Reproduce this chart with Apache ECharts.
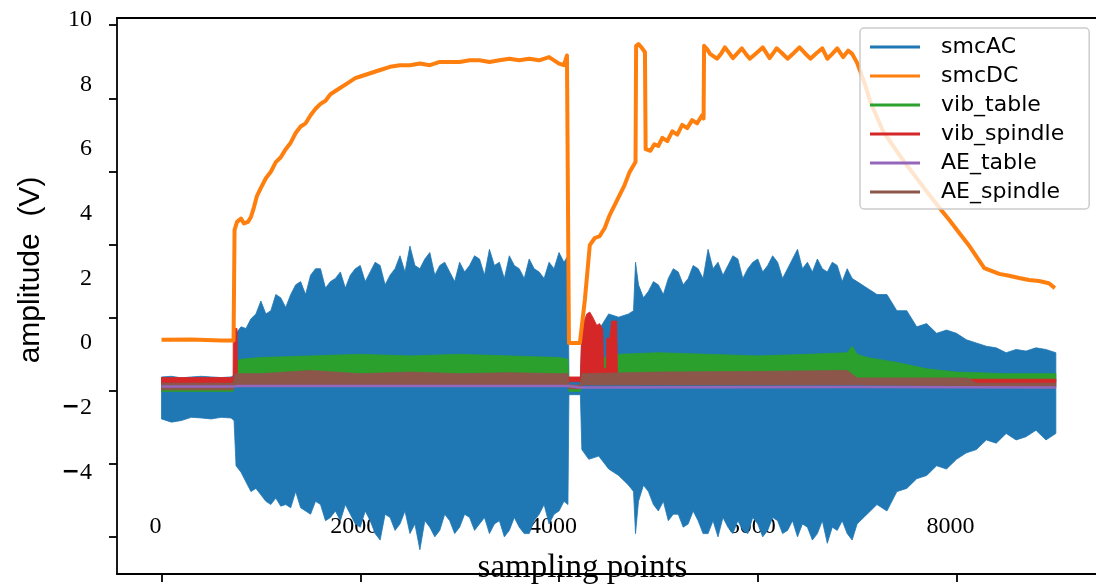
<!DOCTYPE html>
<html><head><meta charset="utf-8">
<script src="https://cdn.jsdelivr.net/npm/echarts@6/dist/echarts.min.js"></script>
<style>html,body{margin:0;padding:0;background:#fff}#c{width:1096px;height:585px}</style>
</head><body><div id="c"></div>
<script>
// ---- tick labels / tick marks ----
const xTickValues = [0, 2000, 4000, 6000, 8000];
const yLabelValues = [10, 8, 6, 4, 2, 0, -2, -4];
const yTickMarks = [9.85, 7.56, 5.29, 3.03, 0.77, -1.49, -3.75, -6.01];
const seriesNames = ['smcAC', 'smcDC', 'vib_table', 'vib_spindle', 'AE_table', 'AE_spindle'];

// ---- smcAC (dense oscillation: envelope) ----
const blueX = [0,100,200,300,400,500,600,700,730,
  750,800,850,900,950,1000,1050,1100,1150,1200,1250,1300,1350,1400,1450,1500,1550,1600,1650,1700,1750,1800,1850,1900,1950,2000,2050,2100,2150,2200,2250,2300,2350,2400,2450,2500,2550,2600,2650,2700,2750,2800,2850,2900,2950,3000,3050,3100,3150,3200,3250,3300,3350,3400,3450,3500,3550,3600,3650,3700,3750,3800,3850,3900,3950,4000,4050,4090,
  4100,4215,
  4230,4300,4400,4500,4600,4700,4750,4770,4800,4850,4900,4950,5000,5050,5100,5150,5200,5250,5300,5350,5400,5450,5500,5550,5600,5650,5700,5750,5800,5850,5900,5950,6000,6050,6100,6150,6200,6250,6300,6350,6400,6450,6500,6550,6600,6650,6700,6750,6800,6850,6900,6950,7000,7100,7200,7300,7400,7500,7600,7700,7800,7900,8000,8100,8200,8300,8400,8500,8600,8700,8800,8900,9000];
const blueHi = [-1.05,-1.03,-1.08,-1.05,-1.03,-1.05,-1.07,-1.05,-1.0,
  0.3,0.5,0.45,0.75,0.9,1.3,0.9,1.0,1.5,1.4,1.1,1.5,1.8,1.9,1.5,2.1,2.3,2.3,1.7,1.9,2.0,2.2,1.7,2.1,2.3,2.4,1.9,2.2,2.5,2.4,1.8,2.1,2.3,2.7,2.2,3.0,2.4,2.3,2.6,2.8,2.1,2.4,2.5,2.2,1.9,2.5,2.2,2.4,2.7,2.6,2.1,2.9,2.4,2.5,2.0,2.7,2.4,2.3,2.0,2.6,2.3,2.2,2.0,2.5,2.3,2.8,2.5,2.7,
  -1.1,-1.1,
  0.2,0.3,0.4,0.9,0.8,0.9,1.0,2.5,1.8,1.4,1.6,1.9,1.8,1.5,2.0,2.3,2.2,1.8,2.0,2.4,2.3,2.0,2.9,2.3,2.5,2.1,2.4,2.7,2.6,2.0,2.3,2.5,2.6,2.2,2.4,2.7,2.5,2.0,2.3,2.6,2.9,2.3,2.5,2.2,2.6,2.3,2.2,2.5,2.4,1.9,2.3,2.0,1.9,1.7,1.5,1.5,1.0,1.0,0.5,0.6,0.3,0.4,0.3,0.1,0.0,-0.1,-0.15,-0.3,-0.2,-0.25,-0.15,-0.2,-0.3];
const blueLo = [-2.35,-2.45,-2.4,-2.3,-2.32,-2.35,-2.3,-2.32,-2.4,
  -3.8,-4.0,-4.3,-4.6,-4.5,-4.7,-4.9,-5.0,-4.8,-5.05,-5.0,-5.1,-4.6,-5.1,-5.2,-5.3,-4.9,-5.0,-5.5,-5.4,-5.2,-5.5,-5.0,-5.3,-5.6,-5.7,-5.2,-5.5,-5.9,-6.1,-5.3,-5.4,-5.8,-5.6,-5.2,-5.9,-5.6,-6.4,-5.5,-5.7,-6.0,-5.8,-5.3,-5.5,-5.9,-5.7,-5.3,-5.4,-5.8,-5.6,-5.4,-5.9,-5.6,-5.5,-6.0,-5.8,-5.4,-5.7,-5.9,-5.9,-5.5,-5.3,-5.0,-5.6,-5.3,-5.2,-4.9,-5.0,
  -1.6,-1.6,
  -3.3,-3.6,-3.5,-3.9,-4.1,-4.4,-4.6,-5.9,-4.9,-4.4,-4.6,-5.0,-5.2,-4.9,-5.5,-5.3,-5.3,-5.7,-5.6,-5.2,-5.5,-5.9,-5.9,-5.5,-6.0,-5.4,-5.7,-5.9,-5.5,-5.8,-5.9,-5.4,-5.6,-6.0,-5.8,-5.4,-5.5,-5.9,-5.8,-5.5,-6.0,-5.6,-5.7,-6.1,-5.9,-5.5,-6.2,-5.7,-5.8,-5.5,-5.9,-6.1,-5.6,-5.3,-5.0,-5.2,-4.6,-4.5,-4.2,-4.1,-3.8,-3.9,-3.6,-3.4,-3.3,-3.0,-3.1,-2.8,-3.0,-2.9,-2.7,-3.0,-2.8];

// ---- smcDC ----
const dcX = [0,300,600,725,735,760,800,830,870,900,930,960,1000,1050,1100,1150,1200,1250,1300,1350,1400,1450,1500,1550,1600,1650,1700,1750,1800,1850,1900,1950,2000,2100,2200,2300,2400,2500,2600,2700,2800,2900,3000,3100,3200,3300,3400,3500,3600,3700,3800,3900,3950,4000,4050,4080,4095,
  4100,4210,4230,4260,4310,4360,4410,4460,4510,4560,4610,4660,4710,4770,
  4776,4800,4830,4865,4872,4920,4960,5000,5040,5090,5140,5190,5240,5290,5340,5390,5440,5455,
  5460,5490,5520,5590,5630,5670,5750,5840,5880,5920,5985,6050,6120,6190,6245,6300,6360,6420,6475,6530,6590,6650,6700,6750,6800,6860,6910,6950,
  7000,7080,7130,7260,7460,7680,7830,7930,8030,8130,8280,8430,8530,8630,8730,8830,8930,8990];
const dcY = [0.1,0.11,0.08,0.08,3.5,3.75,3.85,3.7,3.75,3.9,4.2,4.55,4.8,5.1,5.3,5.6,5.75,6.0,6.2,6.5,6.7,6.8,7.05,7.25,7.4,7.5,7.7,7.8,7.9,8.0,8.1,8.2,8.25,8.35,8.45,8.55,8.6,8.6,8.65,8.6,8.7,8.7,8.7,8.75,8.75,8.7,8.75,8.8,8.75,8.8,8.75,8.85,8.75,8.65,8.6,8.9,8.9,
  0.0,0.0,0.05,1.33,3.03,3.25,3.31,3.56,3.96,4.27,4.58,4.89,5.29,5.6,
  9.2,9.25,9.15,9.0,6.0,5.95,6.15,6.1,6.35,6.25,6.55,6.45,6.75,6.65,6.9,6.8,7.05,6.95,
  9.2,9.1,8.95,8.8,8.95,9.15,8.82,9.12,8.95,8.8,8.97,9.15,8.82,9.12,8.97,8.8,8.97,9.15,8.97,8.8,8.97,9.12,8.8,8.95,9.12,8.85,9.05,8.95,
  8.67,8.0,7.49,6.56,5.67,4.77,4.18,3.8,3.4,3.0,2.32,2.14,2.08,2.01,1.95,1.92,1.85,1.7];

// ---- vib_table ----
const greenX = [0,720,740,800,1000,1500,2000,2500,3000,3500,4000,4090,4100,4215,4230,4600,5000,5500,6000,6500,6900,6950,7000,7100,7400,7700,8000,8500,9000];
const greenHi = [-1.4,-1.4,-0.6,-0.5,-0.45,-0.4,-0.35,-0.4,-0.35,-0.4,-0.45,-0.5,-1.4,-1.4,-0.6,-0.35,-0.3,-0.35,-0.4,-0.35,-0.3,-0.1,-0.35,-0.45,-0.6,-0.8,-0.9,-0.95,-0.95];
const greenLo = [-1.5,-1.5,-1.2,-1.2,-1.2,-1.2,-1.2,-1.2,-1.2,-1.2,-1.2,-1.2,-1.5,-1.5,-1.2,-1.2,-1.2,-1.2,-1.2,-1.2,-1.2,-1.2,-1.2,-1.2,-1.2,-1.2,-1.2,-1.2,-1.2];

// ---- vib_spindle ----
const redX = [0,720,722,760,765,4090,4100,4215,4230,4280,4310,4340,4380,4410,4440,4450,4475,4480,4510,4530,4580,4590,9000];
const redHi = [-1.07,-1.07,0.45,0.45,-1.1,-1.1,-1.05,-1.05,0.5,0.9,0.96,0.8,0.55,0.6,0.4,-0.8,-0.8,0.15,0.15,0.68,0.68,-1.12,-1.12];
const redLo = [-1.25,-1.25,-1.25,-1.25,-1.25,-1.25,-1.2,-1.2,-1.2,-1.2,-1.2,-1.2,-1.2,-1.2,-1.2,-1.2,-1.2,-1.2,-1.2,-1.2,-1.2,-1.25,-1.25];

// ---- AE_table ----
const purpleX = [0,720,760,4100,4215,4230,7000,9000];
const purpleY = [-1.35,-1.35,-1.33,-1.33,-1.38,-1.33,-1.36,-1.38];

// ---- AE_spindle ----
const brownX = [0,720,740,1000,1500,2000,2500,3000,3500,4000,4090,4100,4215,4230,5000,6000,6900,7000,8100,8200,9000];
const brownHi = [-1.24,-1.24,-0.95,-0.95,-0.85,-0.95,-0.9,-0.95,-0.92,-0.95,-0.95,-1.3,-1.3,-0.95,-0.9,-0.88,-0.85,-1.08,-1.08,-1.24,-1.24];
const brownLo = [-1.45,-1.45,-1.3,-1.3,-1.3,-1.3,-1.3,-1.3,-1.3,-1.3,-1.3,-1.42,-1.42,-1.3,-1.3,-1.3,-1.3,-1.3,-1.32,-1.38,-1.38];

const colors = ['#1f77b4', '#ff7f0e', '#2ca02c', '#d62728', '#9467bd', '#8c564b'];

function band(name, color, xs, lo, hi) {
  return {
    type: 'custom', name: name, silent: true, clip: true,
    itemStyle: { color: color },
    encode: { x: 0, y: [1, 2] },
    data: xs.map((x, i) => [x, lo[i], hi[i]]),
    renderItem: function (params, api) {
      if (params.dataIndexInside !== 0) return null;
      const n = params.dataInsideLength;
      const top = [], bot = [];
      for (let i = 0; i < n; i++) {
        const x = api.value(0, i);
        top.push(api.coord([x, api.value(2, i)]));
        bot.push(api.coord([x, api.value(1, i)]));
      }
      return {
        type: 'polygon',
        shape: { points: top.concat(bot.reverse()) },
        style: { fill: color, stroke: color, lineWidth: 0.8 }
      };
    }
  };
}
function line(name, color, xs, ys, w) {
  return {
    type: 'line', name: name, silent: true, showSymbol: false, symbol: 'none',
    data: xs.map((x, i) => [x, ys[i]]),
    lineStyle: { color: color, width: w, join: 'round' },
    itemStyle: { color: color }
  };
}

const chart = echarts.init(document.getElementById('c'), null, { renderer: 'canvas' });
const xMin = -448, xMax = 9404, yMin = -7.15, yMax = 10.06;
chart.setOption({
  animation: false,
  grid: { left: 117, right: 0, top: 18, bottom: 11, containLabel: false, outerBoundsMode: 'none' },
  legend: {
    orient: 'vertical', left: 860, top: 28,
    data: seriesNames.map(n => ({ name: n, icon: 'rect' })),
    itemWidth: 50, itemHeight: 3, itemGap: 7,
    padding: [8, 25, 6, 10],
    backgroundColor: 'rgba(255,255,255,0.8)',
    borderColor: '#cccccc', borderWidth: 1.5, borderRadius: 4,
    textStyle: { fontFamily: 'DejaVu Sans', fontSize: 22, lineHeight: 22, color: '#000', padding: [0, 0, 0, 16] }
  },
  xAxis: [{
    type: 'value', min: xMin, max: xMax, position: 'bottom',
    name: 'sampling points', nameLocation: 'middle', nameGap: -22, nameMoveOverlap: false,
    nameTextStyle: { fontFamily: 'Liberation Serif', fontSize: 33, color: '#000', padding: [0, 48, 0, 0], verticalAlign: 'top' },
    axisLine: { show: true, onZero: false, lineStyle: { color: '#000', width: 1.8 } },
    axisTick: { show: true, length: 8, customValues: xTickValues, lineStyle: { color: '#000', width: 1.8 } },
    axisLabel: { show: true, inside: true, margin: 35, customValues: xTickValues, formatter: v => String(v), fontFamily: 'Liberation Serif', fontSize: 24, color: '#000', padding: [0, 12, 0, 0] },
    splitLine: { show: false }
  }, {
    type: 'value', min: xMin, max: xMax, position: 'top',
    axisLine: { show: true, onZero: false, lineStyle: { color: '#000', width: 1.8 } },
    axisTick: { show: false }, axisLabel: { show: false }, splitLine: { show: false }
  }],
  yAxis: {
    type: 'value', min: yMin, max: yMax,
    name: 'amplitude  (V)', nameLocation: 'middle', nameGap: 71,
    nameTextStyle: { fontFamily: 'Liberation Sans', fontSize: 30, color: '#000', padding: [0, 0, 0, 52] },
    axisLine: { show: true, onZero: false, lineStyle: { color: '#000', width: 1.8 } },
    axisTick: { show: true, length: 8, customValues: yTickMarks, lineStyle: { color: '#000', width: 1.8 } },
    axisLabel: {
      show: true, margin: 25, customValues: yLabelValues,
      fontFamily: 'Liberation Serif', fontSize: 24, color: '#000',
      formatter: v => v < 0 ? '{m|\u2212}{n|' + Math.abs(v) + '}' : '{n|' + v + '}',
      rich: {
        m: { fontFamily: 'DejaVu Sans', fontWeight: 'bold', fontSize: 22, color: '#000' },
        n: { fontFamily: 'Liberation Serif', fontSize: 24, color: '#000' }
      }
    },
    splitLine: { show: false }
  },
  series: [
    band(seriesNames[0], colors[0], blueX, blueLo, blueHi),
    line(seriesNames[1], colors[1], dcX, dcY, 4),
    band(seriesNames[2], colors[2], greenX, greenLo, greenHi),
    band(seriesNames[3], colors[3], redX, redLo, redHi),
    line(seriesNames[4], colors[4], purpleX, purpleY, 2.5),
    band(seriesNames[5], colors[5], brownX, brownLo, brownHi)
  ]
});
</script>
</body></html>
